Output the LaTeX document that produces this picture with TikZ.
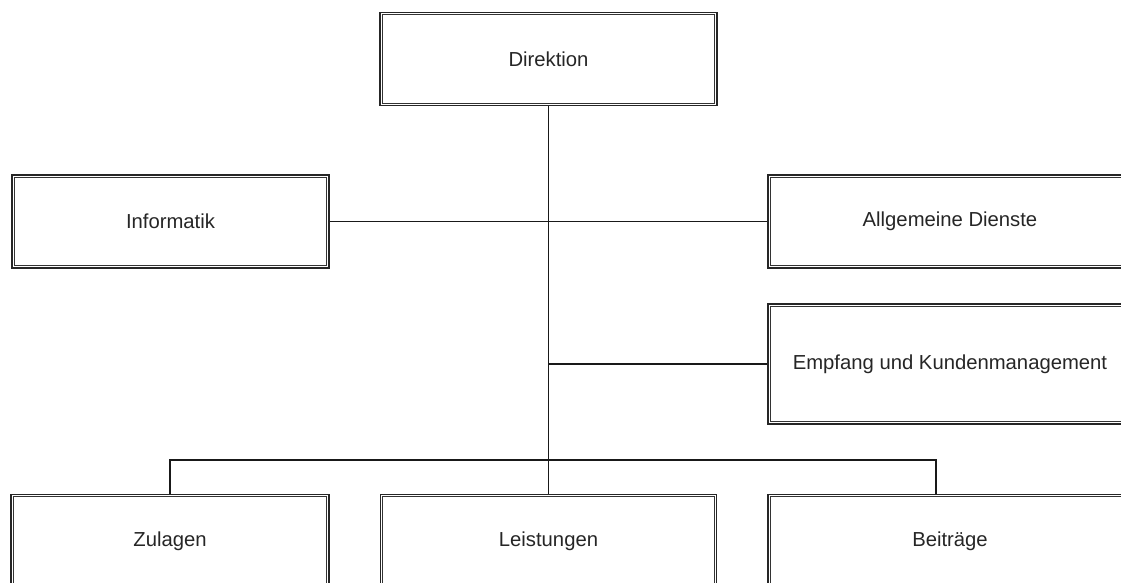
\documentclass[tikz,border=0pt]{standalone}
\usepackage{fontspec}
\setmainfont{Liberation Sans}
\begin{document}
\begin{tikzpicture}[x=0.75pt,y=-0.75pt,
  unit/.style={draw=black!85, line width=1.3pt,
    fill=white, inner sep=0pt, minimum height=93*0.75pt, text=black!85,
    font=\fontsize{15.2pt}{18pt}\selectfont},
  innerframe/.style={draw=black!80, line width=0.6pt},
  link/.style={draw=black!90, line width=1pt}]
\useasboundingbox (0,0) rectangle (1121,582);
\clip (0,0) rectangle (1121,582);
\node[unit, minimum width=337*0.75pt] (dir) at (548.5,59) {Direktion};
\node[unit, minimum width=317*0.75pt] (inf) at (170.5,221.5) {Informatik};
\node[unit, minimum width=364*0.75pt] (all) at (950,221.5) {Allgemeine Dienste};
\node[unit, minimum width=364*0.75pt, minimum height=120*0.75pt] (emp) at (950,364) {Empfang und Kundenmanagement};
\node[unit, minimum width=318*0.75pt] (zul) at (170,541) {Zulagen};
\node[unit, minimum width=336*0.75pt] (lei) at (548.5,541) {Leistungen};
\node[unit, minimum width=364*0.75pt] (bei) at (950,541) {Beiträge};
\foreach \n in {dir,inf,all,emp,zul,lei,bei}
  \draw[innerframe] ([shift={(2.4pt,-2.4pt)}]\n.north west) rectangle ([shift={(-2.4pt,2.4pt)}]\n.south east);
\coordinate (bus) at (548.5,460);
\coordinate (bdrop) at (936,494);
\draw[link] (dir.south) -- (lei.north);
\draw[link] (inf.east) -- (all.west);
\draw[link] (emp.west) -- (emp.west -| dir.south);
\draw[link] (zul.north) |- (bus) -| (bdrop);
\end{tikzpicture}
\end{document}
